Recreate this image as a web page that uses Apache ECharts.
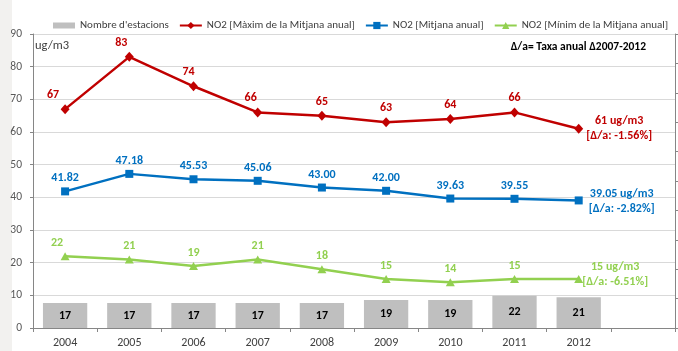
<!DOCTYPE html>
<html>
<head>
<meta charset="utf-8">
<script src="https://cdn.jsdelivr.net/npm/echarts@6/dist/echarts.min.js"></script>
<style>
  html, body { margin: 0; padding: 0; background: #fff; }
  #chart { width: 678px; height: 351px; }
</style>
</head>
<body>
<div id="chart"></div>
<script>
// Annual NO2 levels 2004-2012 and number of monitoring stations
const years = ['2004', '2005', '2006', '2007', '2008', '2009', '2010', '2011', '2012'];
const stations = [17, 17, 17, 17, 17, 19, 19, 22, 21];
const no2Max = [67, 83, 74, 66, 65, 63, 64, 66, 61];
const no2Mean = [41.82, 47.18, 45.53, 45.06, 43.00, 42.00, 39.63, 39.55, 39.05];
const no2Min = [22, 21, 19, 21, 18, 15, 14, 15, 15];
const annualRate = ['-1.56%', '-2.82%', '-6.51%'];
const leftTicks = { min: 0, max: 90, interval: 10 };
const rightTicks = { min: 0, max: 200, interval: 20 };

const FONT = 'Carlito, Calibri, "Liberation Sans", Arial, sans-serif';
const RED = '#c00000', BLUE = '#0070c0', GREEN = '#92d050';

// horizontal nudges for a few value labels that sit left of their point
const nudge = {
  max: { 0: -12, 1: -8, 2: -5, 3: -7 },
  min: { 0: -8 }
};

function lineData(values, key, decimals, rateText, lastShift) {
  return values.map((v, i) => {
    const item = { value: v };
    const dx = (nudge[key] && nudge[key][i]) || 0;
    if (i === values.length - 1) {
      item.label = {
        position: 'right',
        distance: 36 + lastShift[0],
        align: 'center',
        verticalAlign: 'middle',
        offset: [0, lastShift[1]],
        lineHeight: 15,
        formatter: v.toFixed(decimals) + ' ug/m3\n[Δ/a: ' + rateText + ']'
      };
    } else if (dx) {
      item.label = { offset: [dx, 0] };
    }
    return item;
  });
}

function lineSeries(name, values, key, color, symbol, symbolSize, decimals, rateText, lastShift) {
  return {
    name: name,
    type: 'line',
    yAxisIndex: 0,
    z: 5,
    data: lineData(values, key, decimals, rateText, lastShift),
    symbol: symbol,
    symbolSize: symbolSize,
    lineStyle: { color: color, width: 2.5 },
    itemStyle: { color: color },
    label: {
      show: true,
      position: 'top',
      distance: 3,
      color: color,
      fontFamily: FONT,
      fontSize: 12,
      fontWeight: 'bold',
      formatter: p => Number(p.value).toFixed(decimals)
    },
    animation: false
  };
}

const chart = echarts.init(document.getElementById('chart'), null, { renderer: 'canvas' });

chart.setOption({
  backgroundColor: '#ffffff',
  animation: false,
  grid: { left: 33, right: 3, top: 34, bottom: 23, containLabel: false },
  legend: {
    top: 15,
    left: 48,
    width: 630,
    itemWidth: 22,
    itemHeight: 9,
    itemGap: 10,
    symbolKeepAspect: true,
    textStyle: { fontFamily: FONT, fontSize: 11, color: '#404040' },
    data: [
      { name: "Nombre d'estacions", icon: 'path://M0,0H22V6H0Z' },
      'NO2 [Màxim de la Mitjana anual]',
      'NO2 [Mitjana anual]',
      'NO2 [Mínim de la Mitjana anual]'
    ]
  },
  graphic: [
    { type: 'rect', left: 0, top: 0, shape: { width: 12, height: 351 }, style: { fill: '#f2f1ef' }, silent: true },
    { type: 'text', left: 35, top: 39, style: { text: 'ug/m3', font: '12.5px ' + FONT, fill: '#404040' } },
    { type: 'text', right: 32, top: 41, style: { text: 'Δ/a= Taxa anual Δ2007-2012', font: 'bold 11.5px ' + FONT, fill: '#000000' } }
  ],
  xAxis: {
    type: 'category',
    data: years.concat(['']),
    boundaryGap: true,
    axisLine: { lineStyle: { color: '#868686', width: 1 } },
    axisTick: { show: true, length: 4, lineStyle: { color: '#868686' } },
    axisLabel: { fontFamily: FONT, fontSize: 12, color: '#404040', margin: 9 },
    splitLine: { show: false }
  },
  yAxis: [
    {
      type: 'value',
      min: leftTicks.min, max: leftTicks.max, interval: leftTicks.interval,
      axisLine: { show: true, lineStyle: { color: '#868686' } },
      axisTick: { show: true, length: 3, lineStyle: { color: '#868686' } },
      axisLabel: { fontFamily: FONT, fontSize: 11.5, color: '#595959', margin: 11 },
      splitLine: { show: true, lineStyle: { color: '#d9d9d9', width: 1 } }
    },
    {
      type: 'value',
      position: 'right',
      min: rightTicks.min, max: rightTicks.max, interval: rightTicks.interval,
      axisLine: { show: true, lineStyle: { color: '#868686' } },
      axisTick: { show: true, length: 3, lineStyle: { color: '#868686' } },
      axisLabel: { show: false },
      splitLine: { show: false }
    }
  ],
  series: [
    {
      name: "Nombre d'estacions",
      type: 'bar',
      yAxisIndex: 1,
      data: stations,
      barWidth: '69%',
      itemStyle: { color: '#bfbfbf' },
      label: {
        show: true,
        position: 'inside',
        color: '#000000',
        fontFamily: FONT,
        fontSize: 12,
        fontWeight: 'bold'
      },
      z: 2
    },
    lineSeries('NO2 [Màxim de la Mitjana anual]', no2Max, 'max', RED, 'diamond', [9, 10], 0, annualRate[0], [0, 0]),
    lineSeries('NO2 [Mitjana anual]', no2Mean, 'mean', BLUE, 'rect', 8, 2, annualRate[1], [3, 1]),
    lineSeries('NO2 [Mínim de la Mitjana anual]', no2Min, 'min', GREEN, 'triangle', [9, 8], 0, annualRate[2], [-4, -5])
  ]
});
</script>
</body>
</html>
